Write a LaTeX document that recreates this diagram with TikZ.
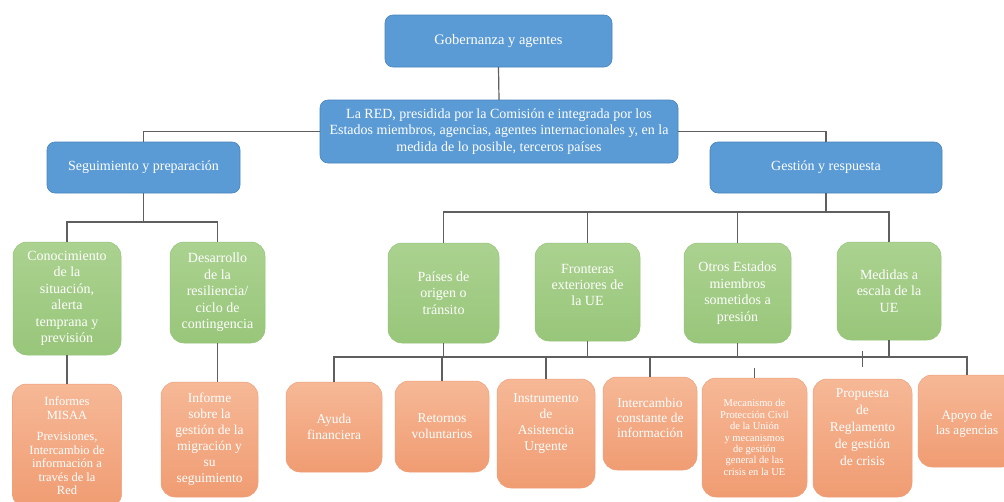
\documentclass[tikz,border=0pt]{standalone}
\usepackage{fontspec}
\setmainfont{Liberation Serif}
\definecolor{bluef}{RGB}{91,155,213}
\definecolor{blued}{RGB}{72,132,190}
\definecolor{greent}{RGB}{171,210,144}
\definecolor{greenb}{RGB}{152,198,122}
\definecolor{greend}{RGB}{150,196,120}
\definecolor{oranget}{RGB}{246,184,150}
\definecolor{orangeb}{RGB}{240,156,114}
\definecolor{oranged}{RGB}{238,160,122}
\definecolor{linec}{RGB}{95,95,95}
\tikzset{
  sz/.style 2 args={minimum width=#1pt, minimum height=#2pt},
  fs/.style 2 args={font=\fontsize{#1}{#2}\selectfont},
  boxbase/.style={rectangle, outer sep=0pt, inner sep=2pt, text=white, align=center},
  bluebox/.style={boxbase, rounded corners=8pt, fill=bluef, draw=blued, line width=0.6pt, fs={14}{16.5}},
  greenbox/.style={boxbase, rounded corners=14pt, top color=greent, bottom color=greenb, draw=greend, line width=0.5pt, fs={14}{16.5}},
  orangebox/.style={boxbase, rounded corners=14pt, top color=oranget, bottom color=orangeb, draw=oranged, line width=0.5pt, fs={13.5}{16}},
  lbl/.style={text=white, align=center, inner sep=0pt},
  conn/.style={draw=linec, line width=1.2pt}
}
\begin{document}
\begin{tikzpicture}[x=1pt,y=-1pt]
\useasboundingbox (0,0) rectangle (1004,501);
\clip (0,0) rectangle (1004,501);
\fill[white] (0,0) rectangle (1004,501);

% blue level
\node[bluebox, sz={227}{52}, fs={14.5}{16.5}] (gob) at (498.5,41) {Gobernanza y agentes};
\node[bluebox, sz={358}{63}] (red) at (499,131.5) {La RED, presidida por la Comisión e integrada por los\\Estados miembros, agencias, agentes internacionales y, en la\\medida de lo posible, terceros países};
\node[bluebox, sz={193}{51}] (seg) at (143.5,167.5) {Seguimiento y preparación};
\node[bluebox, sz={232}{51}] (ges) at (826,167.5) {Gestión y respuesta};

% green level
\node[greenbox, sz={108}{113}] (con) at (67,298.5) {Conocimiento\\de la\\situación,\\alerta\\temprana y\\previsión};
\node[greenbox, sz={95}{101}] (des) at (217.5,292.5) {Desarrollo\\de la\\resiliencia/\\ciclo de\\contingencia};
\node[greenbox, sz={111}{100}] (pai) at (443.5,293) {Países de\\origen o\\tránsito};
\node[greenbox, sz={105}{98}] (fro) at (587.5,292) {};
\node[lbl, fs={14}{16}] (frolbl) at ([yshift=7pt]fro.center) {Fronteras\\exteriores de\\la UE};
\node[greenbox, sz={107}{100}] (otr) at (737.5,293) {Otros Estados\\miembros\\sometidos a\\presión};
\node[greenbox, sz={104}{98}] (med) at (889,291) {Medidas a\\escala de la\\UE};

% orange level
\node[orangebox, sz={109}{124}, fs={12.5}{13.5}] (inf1) at (67,446) {Informes\\MISAA\\[8pt]Previsiones,\\Intercambio de\\información a\\través de la\\Red};
\node[orangebox, sz={97}{115}] (inf2) at (209.5,439.5) {Informe\\sobre la\\gestión de la\\migración y\\su\\seguimiento};
\node[orangebox, sz={96}{90}] (ayu) at (334,427) {Ayuda\\financiera};
\node[orangebox, sz={94}{91}] (ret) at (442,426.5) {Retornos\\voluntarios};
\node[orangebox, sz={98}{109}] (ins) at (546,433.5) {};
\node[lbl, fs={13.5}{16}] (inslbl) at ([yshift=9.5pt]ins.center) {Instrumento\\de\\Asistencia\\Urgente};
\node[orangebox, sz={94}{93}] (int) at (650,423.5) {};
\node[lbl, fs={13.5}{15}] (intlbl) at ([yshift=5.5pt]int.center) {Intercambio\\constante de\\información};
\node[orangebox, sz={105}{119}, fs={10.5}{11.4}] (mec) at (754.5,437.5) {Mecanismo de\\Protección Civil\\de la Unión\\y mecanismos\\de gestión\\general de las\\crisis en la UE};
\node[orangebox, sz={99}{118}] (pro) at (862.5,438) {};
\node[lbl, fs={13.5}{17}] (prolbl) at ([yshift=11pt]pro.center) {Propuesta\\de\\Reglamento\\de gestión\\de crisis};
\node[orangebox, sz={98}{92}, fs={13}{15}] (apo) at (967,421) {};
\node[lbl, fs={13}{15}] (apolbl) at ([yshift=-3pt]apo.center) {Apoyo de\\las agencias};

% connectors
\draw[conn] (gob.south) -- (red.north);
\draw[conn] (red.west) -| (seg.north);
\draw[conn] (red.east) -| (ges.north);

\coordinate (sbus) at (143.5,222);
\draw[conn] (seg.south) -- (sbus);
\draw[conn] (con.north) |- (sbus) -| (des.north);
\draw[conn] (con.south) -- (inf1.north);
\draw[conn] (des.south) -- (des.south |- inf2.north);

\coordinate (gbus) at (826,212);
\draw[conn] (ges.south) -- (gbus);
\draw[conn] (pai.north) |- (gbus) -| (med.north);
\draw[conn] (fro.north) -- (fro.north |- gbus);
\draw[conn] (otr.north) -- (otr.north |- gbus);

\coordinate (bbus) at (600,357);
\draw[conn] (ayu.north) |- (bbus) -| (apo.north);
\draw[conn] (pai.south) -- (pai.south |- bbus);
\draw[conn] (fro.south) -- (fro.south |- bbus);
\draw[conn] (otr.south) -- (otr.south |- bbus);
\draw[conn] (med.south) -- (med.south |- bbus);
\draw[conn] (ret.north) -- (ret.north |- bbus);
\draw[conn] (ins.north) -- (ins.north |- bbus);
\draw[conn] (int.north) -- (int.north |- bbus);

\coordinate (mecstub) at (754.5,368);
\draw[conn] (mecstub) -- (mec.north);
\coordinate (prostubA) at (862.5,351);
\coordinate (prostubB) at (862.5,367);
\draw[conn] (prostubA) -- (prostubB);
\end{tikzpicture}
\end{document}
